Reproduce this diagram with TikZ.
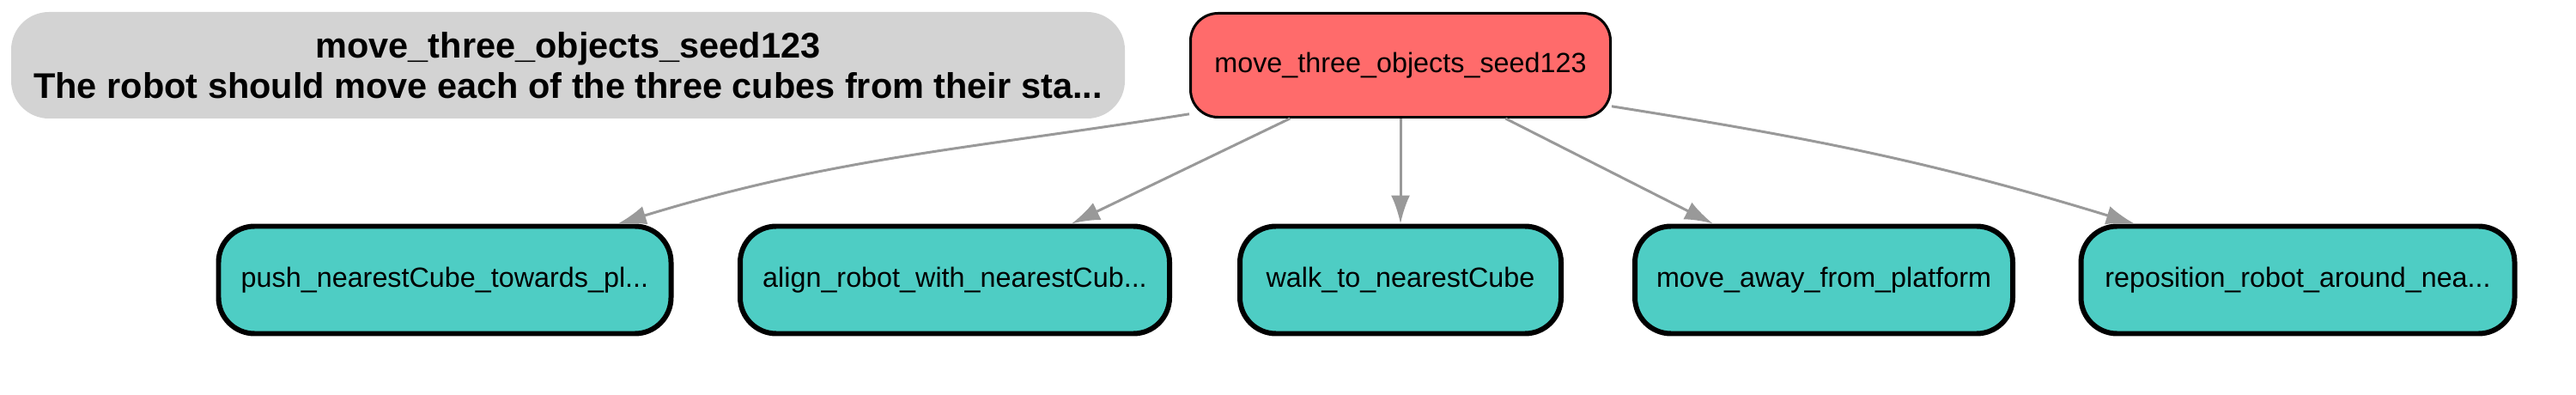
\documentclass[tikz,border=0pt]{standalone}
\usepackage{fontspec}
\setsansfont{Liberation Sans}
\usetikzlibrary{arrows.meta}
\definecolor{infogray}{HTML}{D3D3D3}
\definecolor{rootred}{HTML}{FF6B6B}
\definecolor{skillteal}{HTML}{4ECDC4}
\definecolor{linkgray}{HTML}{999999}

\begin{document}
\begin{tikzpicture}[every node/.style={font=\sffamily},
  goal/.style={draw,line width=0.85pt,rounded corners=0.32cm,fill=rootred,minimum width=4.89cm,minimum height=1.21cm,font=\sffamily\fontsize{9.2}{11}\selectfont},
  skill/.style={draw,line width=1.7pt,rounded corners=0.42cm,fill=skillteal,minimum height=1.25cm,font=\sffamily\fontsize{9.2}{11}\selectfont},
  link/.style={draw=linkgray,line width=0.85pt,-{Latex[length=3.3mm,width=2.2mm]}}]
\useasboundingbox (0,0) rectangle (30,4.59);
\node[fill=infogray,rounded corners=0.44cm,minimum width=12.97cm,minimum height=1.24cm,align=center,font=\sffamily\bfseries\fontsize{11.8}{13.2}\selectfont] (info) at (6.615,3.83){move\_three\_objects\_seed123\\The robot should move each of the three cubes from their sta...};
\node[goal] (root) at (16.31,3.83){move\_three\_objects\_seed123};
\node[skill,minimum width=5.27cm] (push) at (5.18,1.33){push\_nearestCube\_towards\_pl...};
\node[skill,minimum width=5.0cm] (align) at (11.12,1.33){align\_robot\_with\_nearestCub...};
\node[skill,minimum width=3.74cm] (walk) at (16.31,1.33){walk\_to\_nearestCube};
\node[skill,minimum width=4.4cm] (away) at (21.24,1.33){move\_away\_from\_platform};
\node[skill,minimum width=5.05cm] (repos) at (26.76,1.33){reposition\_robot\_around\_nea...};
\draw[link] (root.193) to[out=189,in=17] (push.18);
\draw[link] (root) -- (align);
\draw[link] (root) -- (walk);
\draw[link] (root) -- (away);
\draw[link] (root.349) to[out=-9,in=163] (repos.161);
\end{tikzpicture}
\end{document}
